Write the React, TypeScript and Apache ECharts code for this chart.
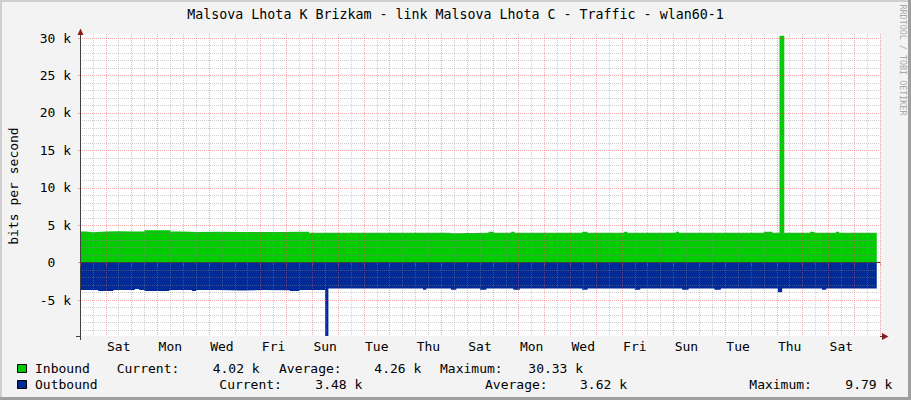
import React, { useEffect, useRef } from 'react';
import * as echarts from 'echarts';

// ---------- data ----------
const chartTitle = 'Malsova Lhota K Brizkam - link Malsova Lhota C - Traffic - wlan60-1';
const yAxisTitle = 'bits per second';
const watermark = 'RRDTOOL / TOBI OETIKER';

// hours since the graph start (a Friday, 00:00)
const dayNames = ['Fri', 'Sat', 'Sun', 'Mon', 'Tue', 'Wed', 'Thu'];
const xLabelHours = [36, 84, 132, 180, 228, 276, 324, 372, 420, 468, 516, 564, 612, 660, 708];
const yMajorTicks = [-5000, 0, 5000, 10000, 15000, 20000, 25000, 30000];
const yTickLabels = ['-5 k', '0\u00a0\u00a0', '5 k', '10 k', '15 k', '20 k', '25 k', '30 k'];

// [hour, bits per second]
const inbound: [number, number][] = [
  [0, 4170], [6, 4080], [12, 4170], [24, 4190], [36, 4160], [48, 4180], [60, 4350], [84, 4180],
  [93, 4100], [110, 4120], [130, 4090], [150, 4110], [170, 4100], [190, 4120], [205, 4130], [213, 4000],
  [240, 4010], [270, 4000], [300, 4010], [320, 4000], [343, 3950], [347, 4000], [380, 4130], [385, 4000],
  [401, 4130], [404, 4000], [430, 4010], [467, 4130], [472, 4000], [506, 4130], [509, 4000], [530, 4010],
  [554, 4130], [557, 4000], [600, 4010], [636, 4130], [644, 4000], [650.5, 30330], [655, 4000], [679, 4130],
  [683, 4000], [703, 4130], [706, 4000], [741, 4020],
];
// outbound magnitudes, drawn below zero
const outbound: [number, number][] = [
  [0, 3650], [17, 3780], [31, 3650], [51, 3500], [55, 3650], [60, 3780], [83, 3650], [104, 3780],
  [108, 3650], [130, 3700], [150, 3650], [170, 3680], [195, 3780], [204, 3650], [228, 9790], [231, 3450],
  [260, 3460], [290, 3450], [319, 3600], [322, 3450], [345, 3600], [350, 3450], [372, 3600], [378, 3450],
  [403, 3600], [409, 3450], [440, 3460], [467, 3600], [472, 3450], [516, 3600], [521, 3450], [560, 3600],
  [566, 3450], [590, 3600], [596, 3450], [649, 3950], [653, 3450], [690, 3600], [694, 3450], [741, 3480],
];

const seriesNames = ['Inbound', 'Outbound'];
const seriesColors = ['#00CC00', '#002A97'];
const currentLabels = ['4.02 k', '3.48 k'];
const averageLabels = ['4.26 k', '3.62 k'];
const maximumLabels = ['30.33 k', '9.79 k'];

const X_MIN = 0;
const X_MAX = 744;
const Y_MIN = -9790;
const Y_MAX = 30550;

// ---------- layout ----------
const FONT = '"DejaVu Sans Mono", monospace';
const GRID_LEFT = 80;
const GRID_TOP = 34;
const GRID_RIGHT_X = 880;
const GRID_BOTTOM_Y = 336;
const AXIS_COLOR = '#404040';
const ARROW_COLOR = '#8b1c1c';
const MINOR_COLOR = 'rgba(140,140,140,0.42)';
const MAJOR_COLOR = 'rgba(232,80,80,0.48)';

const xMinor: number[] = [];
const xMajor: number[] = [];
for (let h = X_MIN; h <= X_MAX; h += 12) (h % 24 === 0 ? xMajor : xMinor).push(h);
const yMinor: number[] = [];
for (let v = -9000; v <= 30000; v += 1000) if (v % 5000 !== 0) yMinor.push(v);

// legend column positions per row
const legendRows = [
  { y: 368.7, box: 364.5, name: 35, cur: 116.7, curV: 212.7, avg: 279, avgV: 374.3, max: 440, maxV: 528.3 },
  { y: 384.7, box: 380.5, name: 35, cur: 219.3, curV: 315.3, avg: 485, avgV: 580, max: 749.3, maxV: 845.3 },
];

function txt(text: string, x: number, y: number, extra: any = {}) {
  return {
    type: 'text',
    x,
    y,
    z: 100,
    style: {
      text,
      fill: '#000',
      fontSize: 13,
      fontFamily: FONT,
      align: 'left',
      textAlign: 'left',
      verticalAlign: 'middle',
      textVerticalAlign: 'middle',
      ...extra,
    },
  };
}

export default function App() {
  const ref = useRef<HTMLDivElement>(null);
  useEffect(() => {
    if (!ref.current) return;
    const chart = echarts.init(ref.current, undefined, { renderer: 'svg' });

    const graphics: any[] = [];
    graphics.push(txt(chartTitle, 455.5, 14.3, { align: 'center', textAlign: 'center', fontSize: 13.3 }));
    graphics.push({
      type: 'text', x: 13, y: 186, rotation: Math.PI / 2, z: 100,
      style: { text: yAxisTitle, fill: '#000', fontSize: 13, fontFamily: FONT, align: 'center', textAlign: 'center', verticalAlign: 'middle', textVerticalAlign: 'middle' },
    });
    graphics.push({
      type: 'text', x: 902.5, y: 60, rotation: -Math.PI / 2, z: 100,
      style: { text: watermark, fill: '#a8a8a8', fontSize: 8.4, fontFamily: FONT, align: 'center', textAlign: 'center', verticalAlign: 'middle', textVerticalAlign: 'middle' },
    });
    legendRows.forEach((r, i) => {
      graphics.push({
        type: 'rect', z: 100,
        shape: { x: 17.5, y: r.box, width: 9, height: 8 },
        style: { fill: seriesColors[i], stroke: '#000', lineWidth: 1 },
      });
      graphics.push(txt(seriesNames[i], r.name, r.y));
      graphics.push(txt('Current:', r.cur, r.y));
      graphics.push(txt(currentLabels[i], r.curV, r.y));
      graphics.push(txt('Average:', r.avg, r.y));
      graphics.push(txt(averageLabels[i], r.avgV, r.y));
      graphics.push(txt('Maximum:', r.max, r.y));
      graphics.push(txt(maximumLabels[i], r.maxV, r.y));
    });
    // axis extensions and arrows
    graphics.push({ type: 'line', z: 90, shape: { x1: 76, y1: GRID_BOTTOM_Y + 0.5, x2: GRID_LEFT, y2: GRID_BOTTOM_Y + 0.5 }, style: { stroke: AXIS_COLOR, lineWidth: 1 } });
    graphics.push({ type: 'line', z: 90, shape: { x1: GRID_RIGHT_X, y1: GRID_BOTTOM_Y + 0.5, x2: 883, y2: GRID_BOTTOM_Y + 0.5 }, style: { stroke: AXIS_COLOR, lineWidth: 1 } });
    graphics.push({ type: 'line', z: 90, shape: { x1: GRID_LEFT + 0.5, y1: 30, x2: GRID_LEFT + 0.5, y2: GRID_TOP }, style: { stroke: AXIS_COLOR, lineWidth: 1 } });
    graphics.push({ type: 'line', z: 90, shape: { x1: GRID_LEFT + 0.5, y1: GRID_BOTTOM_Y, x2: GRID_LEFT + 0.5, y2: 340 }, style: { stroke: AXIS_COLOR, lineWidth: 1 } });
    graphics.push({ type: 'polygon', z: 95, shape: { points: [[77.5, 35], [83.5, 35], [80.5, 28.5]] }, style: { fill: ARROW_COLOR } });
    graphics.push({ type: 'polygon', z: 95, shape: { points: [[882, 333], [882, 340], [888.5, 336.5]] }, style: { fill: ARROW_COLOR } });
    // 3D frame shading
    graphics.push({ type: 'rect', z: 120, shape: { x: 0, y: 0, width: 911, height: 2 }, style: { fill: '#cfcfcf' } });
    graphics.push({ type: 'rect', z: 120, shape: { x: 0, y: 0, width: 2, height: 400 }, style: { fill: '#cfcfcf' } });
    graphics.push({ type: 'rect', z: 121, shape: { x: 908, y: 0, width: 3, height: 400 }, style: { fill: '#9e9e9e' } });
    graphics.push({ type: 'rect', z: 121, shape: { x: 0, y: 397, width: 911, height: 3 }, style: { fill: '#9e9e9e' } });

    const minorSplit = { show: true, lineStyle: { color: MINOR_COLOR, width: 1, type: [1, 1] } };
    const majorSplit = { show: true, lineStyle: { color: MAJOR_COLOR, width: 1, type: [1, 1] } };

    const option: any = {
      animation: false,
      backgroundColor: '#f3f3f3',
      grid: {
        left: GRID_LEFT,
        top: GRID_TOP,
        right: 911 - GRID_RIGHT_X,
        bottom: 400 - GRID_BOTTOM_Y,
        show: true,
        backgroundColor: '#ffffff',
        borderWidth: 0,
        containLabel: false,
      },
      xAxis: [
        {
          type: 'value', min: X_MIN, max: X_MAX, position: 'bottom', z: 10,
          axisLine: { show: false },
          axisTick: { show: true, length: 2, customValues: xMinor, lineStyle: { color: MINOR_COLOR } },
          splitLine: minorSplit,
          axisLabel: {
            show: true, customValues: xLabelHours, margin: 4, color: '#000', fontSize: 13, fontFamily: FONT,
            formatter: (v: number) => dayNames[Math.floor(v / 24) % 7],
          },
        },
        {
          type: 'value', min: X_MIN, max: X_MAX, position: 'bottom', z: 11,
          axisLine: { show: true, lineStyle: { color: AXIS_COLOR, width: 1 } },
          axisTick: { show: true, length: 3, customValues: xMajor, lineStyle: { color: MAJOR_COLOR } },
          splitLine: majorSplit,
          axisLabel: { show: false },
        },
      ],
      yAxis: [
        {
          type: 'value', min: Y_MIN, max: Y_MAX, position: 'left', z: 10,
          axisLine: { show: false },
          axisTick: { show: false, customValues: yMinor },
          splitLine: minorSplit,
          axisLabel: { show: false },
        },
        {
          type: 'value', min: Y_MIN, max: Y_MAX, position: 'left', z: 11,
          axisLine: { show: true, lineStyle: { color: AXIS_COLOR, width: 1 } },
          axisTick: { show: true, length: 2, customValues: yMajorTicks, lineStyle: { color: MAJOR_COLOR } },
          splitLine: majorSplit,
          axisLabel: {
            show: true, customValues: yMajorTicks, margin: 9, color: '#000', fontSize: 13, fontFamily: FONT,
            formatter: (v: number) => yTickLabels[yMajorTicks.indexOf(v)] ?? '',
          },
        },
      ],
      series: [
        {
          name: seriesNames[0], type: 'line', step: 'end', xAxisIndex: 0, yAxisIndex: 0, z: 2,
          showSymbol: false, symbol: 'none',
          lineStyle: { width: 0, color: seriesColors[0] },
          areaStyle: { color: seriesColors[0], opacity: 1, origin: 0 },
          data: inbound,
        },
        {
          name: seriesNames[1], type: 'line', step: 'end', xAxisIndex: 0, yAxisIndex: 0, z: 2,
          showSymbol: false, symbol: 'none',
          lineStyle: { width: 0, color: seriesColors[1] },
          areaStyle: { color: seriesColors[1], opacity: 1, origin: 0 },
          data: outbound.map(([h, v]) => [h, -v]),
        },
      ],
      graphic: graphics,
    };
    chart.setOption(option);
    return () => chart.dispose();
  }, []);

  return (
    <div
      ref={ref}
      style={{ position: 'absolute', left: 0, top: 0, width: 911, height: 400 }}
    />
  );
}
